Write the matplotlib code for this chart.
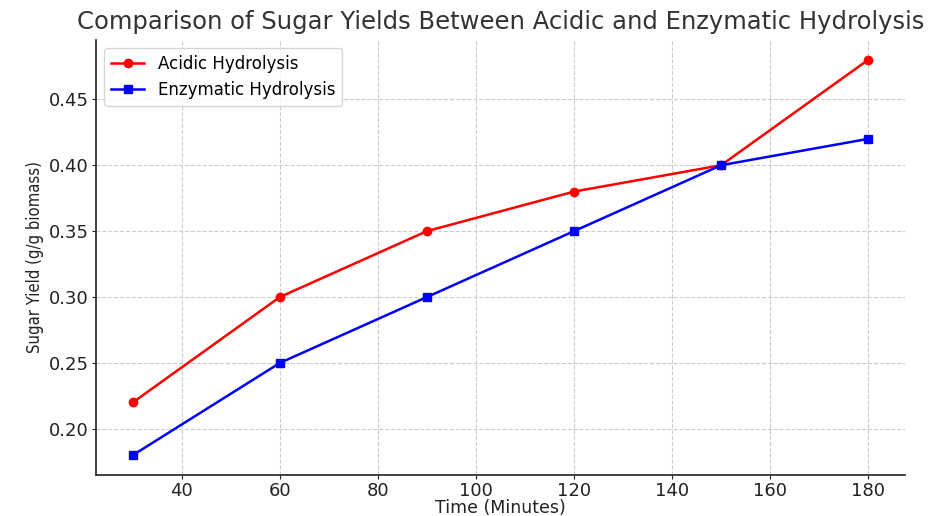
import matplotlib
matplotlib.use('Agg')
import matplotlib.pyplot as plt

# time points (minutes)
time_min = [30, 60, 90, 120, 150, 180]
acidic = [0.22, 0.30, 0.35, 0.38, 0.40, 0.48]
enzymatic = [0.18, 0.25, 0.30, 0.35, 0.40, 0.42]

fig = plt.figure(figsize=(9.44, 5.16), dpi=100)
ax = fig.add_axes([0.1017, 0.0795, 0.857, 0.843])

ax.plot(time_min, acidic, color='red', marker='o', markersize=6, linewidth=1.8, label='Acidic Hydrolysis')
ax.plot(time_min, enzymatic, color='blue', marker='s', markersize=6, linewidth=1.8, label='Enzymatic Hydrolysis')

ax.set_title('Comparison of Sugar Yields Between Acidic and Enzymatic Hydrolysis',
             fontsize=17.5, color='#333333', pad=8)
ax.set_xlabel('Time (Minutes)', fontsize=12.5, color='#222222', labelpad=-1)
ax.set_ylabel('Sugar Yield (g/g biomass)', fontsize=12, color='#222222', fontstretch='condensed')
ax.set_xticks([40, 60, 80, 100, 120, 140, 160, 180])
ax.set_yticks([0.20, 0.25, 0.30, 0.35, 0.40, 0.45])
ax.set_yticklabels(['0.20', '0.25', '0.30', '0.35', '0.40', '0.45'])
ax.tick_params(labelsize=13, colors='#222222', length=3, pad=2)

ax.grid(True, linestyle='--', color='#cccccc', linewidth=0.8)
ax.spines['top'].set_visible(False)
ax.spines['right'].set_visible(False)
ax.spines['left'].set_color('#333333')
ax.spines['bottom'].set_color('#333333')
ax.spines['left'].set_linewidth(1.3)
ax.spines['bottom'].set_linewidth(1.3)

ax.legend(loc='upper left', fontsize=12)

fig.savefig('out.png', dpi=100)
